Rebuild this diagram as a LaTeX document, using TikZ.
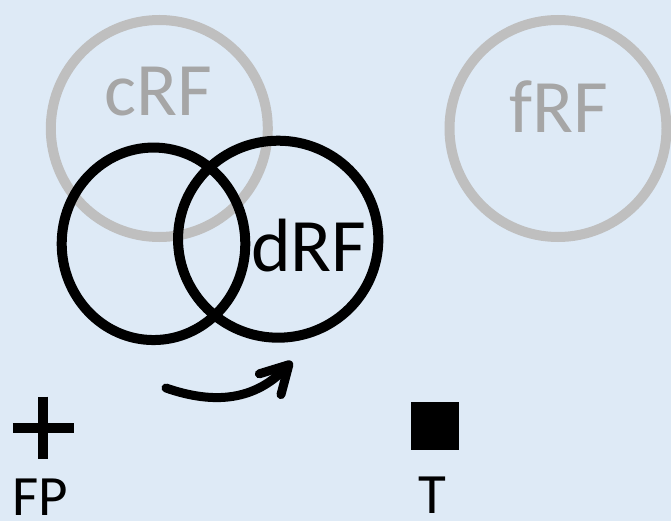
\documentclass[tikz,border=0pt]{standalone}
\usepackage{fontspec}
\setmainfont{Carlito}
\usetikzlibrary{shapes.geometric,arrows.meta}
\definecolor{bgblue}{HTML}{DEEAF6}
\definecolor{ringgray}{HTML}{BFBFBF}
\definecolor{labelgray}{HTML}{A6A6A6}
\tikzset{
  ring/.style={draw=ringgray, line width=10pt, circle, minimum size=217pt, inner sep=0pt, outer sep=0pt},
  blackring/.style={draw=black, line width=10pt, ellipse, inner sep=0pt, outer sep=0pt},
  biglabel/.style={inner sep=0pt, anchor=base, font=\fontsize{75.5}{80}\selectfont},
  smalllabel/.style={inner sep=0pt, anchor=base, font=\fontsize{57}{60}\selectfont},
  arrowline/.style={line width=9pt, line cap=round, -{Straight Barb[length=27pt,width=30pt,round]}},
  plusbar/.style={line width=10pt}
}
\begin{document}
\begin{tikzpicture}[x=1pt,y=-1pt]
  \fill[bgblue] (0,0) rectangle (671,521);
  \useasboundingbox (0,0) rectangle (671,521);
  % gray receptive fields
  \node[ring] (crf) at (159.3,128.5) {};
  \node[ring] (frf) at (558,128.5) {};
  \node[biglabel, text=labelgray] (crft) at (158.3,116) {cRF};
  \node[biglabel, text=labelgray] (frft) at (558.8,132.7) {fRF};
  % black receptive fields
  \node[blackring, minimum width=183.6pt, minimum height=192.5pt] (rfl) at (153.5,243.8) {};
  \node[blackring, minimum width=200.3pt, minimum height=197pt] (drf) at (278.2,239.2) {};
  \node[biglabel] (drft) at (309,271.7) {dRF};
  % shift arrow
  \coordinate (a0) at (166,388);
  \coordinate (a1) at (292,361.5);
  \draw[arrowline] (a0) .. controls (215,405) and (255,400) .. (a1);
  % fixation point
  \coordinate (fp) at (43.4,427.7);
  \draw[plusbar] ([xshift=-30.5pt]fp) -- ([xshift=30.5pt]fp);
  \draw[plusbar] ([yshift=31pt]fp) -- ([yshift=-31pt]fp);
  \node[smalllabel] (fpt) at (40.5,515.5) {FP};
  % target
  \node[fill=black, minimum size=48pt, inner sep=0pt, outer sep=0pt] (tsq) at (435,426) {};
  \node[smalllabel] (tt) at (432,513) {T};
\end{tikzpicture}
\end{document}
